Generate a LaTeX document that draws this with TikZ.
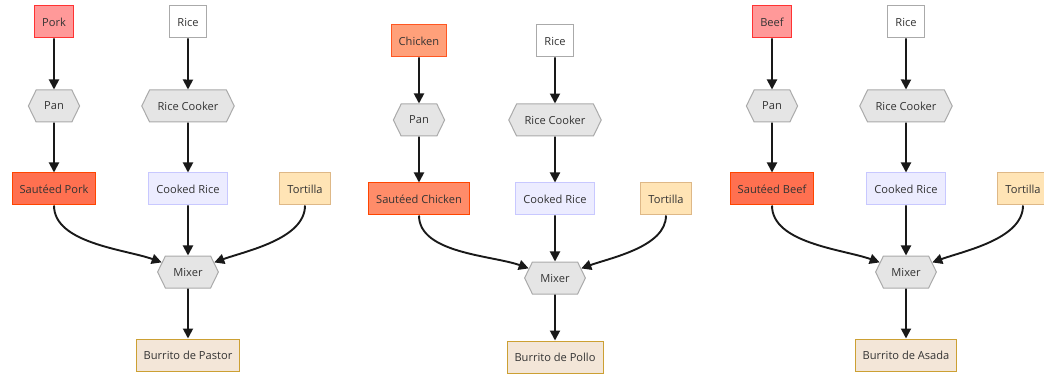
\documentclass[tikz,border=0pt]{standalone}
\usepackage{fontspec}
\setmainfont{Open Sans}
\usetikzlibrary{arrows.meta, shapes.symbols}

\definecolor{txtgray}{HTML}{333333}
\definecolor{rawfill}{HTML}{FF9999}
\definecolor{rawdraw}{HTML}{FF3333}
\definecolor{chickfill}{HTML}{FFA07A}
\definecolor{chickdraw}{HTML}{FF5722}
\definecolor{sautefill}{HTML}{FF7050}
\definecolor{sautelight}{HTML}{FF8C69}
\definecolor{sautedraw}{HTML}{FF4500}
\definecolor{toolfill}{HTML}{E5E5E5}
\definecolor{tooldraw}{HTML}{AAAAAA}
\definecolor{ricefill}{HTML}{ECECFF}
\definecolor{ricedraw}{HTML}{C8C8FF}
\definecolor{tortfill}{HTML}{FFE4B5}
\definecolor{tortdraw}{HTML}{DEB887}
\definecolor{burfill}{HTML}{F3E6D8}
\definecolor{burdraw}{HTML}{CCA033}

\tikzset{
  box/.style={rectangle, draw, line width=1pt, minimum height=32pt,
    inner xsep=7.5pt, text=txtgray, font=\fontsize{11.1}{13}\selectfont},
  raw/.style={box, fill=rawfill, draw=rawdraw},
  chick/.style={box, fill=chickfill, draw=chickdraw},
  saute/.style={box, fill=sautefill, draw=sautedraw},
  grain/.style={box, fill=white, draw=tooldraw},
  cooked/.style={box, fill=ricefill, draw=ricedraw},
  tort/.style={box, fill=tortfill, draw=tortdraw},
  burrito/.style={box, fill=burfill, draw=burdraw},
  tool/.style={box, shape=signal, signal to=east and west,
    signal pointer angle=128, fill=toolfill, draw=tooldraw, inner xsep=8pt},
  flow/.style={line width=1.9pt, black!90, -{Triangle[length=10pt,width=10pt]}}
}

\begin{document}
\begin{tikzpicture}[x=1pt, y=-1pt]
\useasboundingbox (0,0) rectangle (1044,374);

% Pastor
\node[raw] (pork) at (54,22) {Pork};
\node[grain] (rice1) at (188,22) {Rice};
\node[tool] (pan1) at (54,106) {Pan};
\node[tool] (cooker1) at (188,106) {Rice Cooker};
\node[saute] (spork) at (54,189) {Sautéed Pork};
\node[cooked] (crice1) at (188,189) {Cooked Rice};
\node[tort] (tort1) at (305,189) {Tortilla};
\node[tool] (mix1) at (188,272) {Mixer};
\node[burrito] (pastor) at (188,355) {Burrito de Pastor};

\draw[flow] (pork) -- (pan1);
\draw[flow] (pan1) -- (spork);
\draw[flow] (rice1) -- (cooker1);
\draw[flow] (cooker1) -- (crice1);
\draw[flow] (spork) to[out=-90, in=160, looseness=0.8] (mix1);
\draw[flow] (crice1) -- (mix1);
\draw[flow] (tort1) to[out=-90, in=20, looseness=0.8] (mix1);
\draw[flow] (mix1) -- (pastor);

% Pollo
\node[chick] (chicken) at (419,41) {Chicken};
\node[grain] (rice2) at (555,41) {Rice};
\node[tool] (pan2) at (419,120) {Pan};
\node[tool] (cooker2) at (555,120) {Rice Cooker};
\node[saute, fill=sautelight] (schicken) at (419,199) {Sautéed Chicken};
\node[cooked] (crice2) at (555,199) {Cooked Rice};
\node[tort] (tort2) at (666,199) {Tortilla};
\node[tool] (mix2) at (555,278) {Mixer};
\node[burrito] (pollo) at (555,357) {Burrito de Pollo};

\draw[flow] (chicken) -- (pan2);
\draw[flow] (pan2) -- (schicken);
\draw[flow] (rice2) -- (cooker2);
\draw[flow] (cooker2) -- (crice2);
\draw[flow] (schicken) to[out=-90, in=160, looseness=0.8] (mix2);
\draw[flow] (crice2) -- (mix2);
\draw[flow] (tort2) to[out=-90, in=20, looseness=0.8] (mix2);
\draw[flow] (mix2) -- (pollo);

% Asada
\node[raw] (beef) at (772,22) {Beef};
\node[grain] (rice3) at (906,22) {Rice};
\node[tool] (pan3) at (772,106) {Pan};
\node[tool] (cooker3) at (906,106) {Rice Cooker};
\node[saute] (sbeef) at (772,189) {Sautéed Beef};
\node[cooked] (crice3) at (906,189) {Cooked Rice};
\node[tort] (tort3) at (1023,189) {Tortilla};
\node[tool] (mix3) at (906,272) {Mixer};
\node[burrito] (asada) at (906,355) {Burrito de Asada};

\draw[flow] (beef) -- (pan3);
\draw[flow] (pan3) -- (sbeef);
\draw[flow] (rice3) -- (cooker3);
\draw[flow] (cooker3) -- (crice3);
\draw[flow] (sbeef) to[out=-90, in=160, looseness=0.8] (mix3);
\draw[flow] (crice3) -- (mix3);
\draw[flow] (tort3) to[out=-90, in=20, looseness=0.8] (mix3);
\draw[flow] (mix3) -- (asada);
\end{tikzpicture}
\end{document}
